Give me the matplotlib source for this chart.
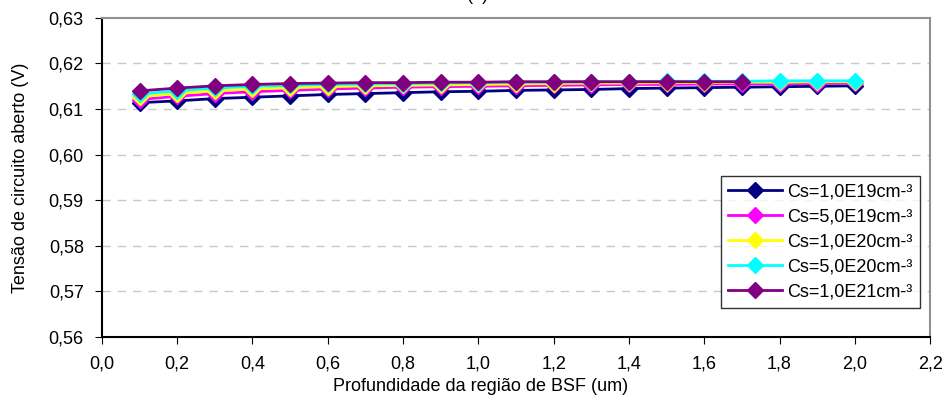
import matplotlib
matplotlib.use('Agg')
from matplotlib import pyplot as plt

plt.rcParams['font.family'] = ['Liberation Sans', 'DejaVu Sans']

depth = [0.1, 0.2, 0.3, 0.4, 0.5, 0.6, 0.7, 0.8, 0.9, 1.0,
         1.1, 1.2, 1.3, 1.4, 1.5, 1.6, 1.7, 1.8, 1.9, 2.0]

voc_1e19 = [0.6114, 0.6118, 0.6123, 0.6126, 0.6129, 0.6132, 0.6134, 0.6136, 0.6138, 0.6139,
            0.6141, 0.6142, 0.6143, 0.6145, 0.6146, 0.6147, 0.6148, 0.6149, 0.6150, 0.6151]
voc_5e19 = [0.6121, 0.6128, 0.6134, 0.6138, 0.6141, 0.6144, 0.6146, 0.6148, 0.6149, 0.6150,
            0.6151, 0.6152, 0.6153, 0.6154, 0.6154, 0.6155, 0.6155, 0.6156, 0.6156, 0.6157]
voc_1e20 = [0.6127, 0.6134, 0.6140, 0.6144, 0.6147, 0.6149, 0.6151, 0.6152, 0.6153, 0.6154,
            0.6155, 0.6156, 0.6157, 0.6157, 0.6158, 0.6158, 0.6159, 0.6159, 0.6160, 0.6160]
voc_5e20 = [0.6133, 0.6140, 0.6146, 0.6150, 0.6152, 0.6154, 0.6155, 0.6156, 0.6157, 0.6158,
            0.6159, 0.6159, 0.6160, 0.6160, 0.6161, 0.6161, 0.6161, 0.6162, 0.6162, 0.6162]
voc_1e21 = [0.6140, 0.6146, 0.6151, 0.6154, 0.6156, 0.6157, 0.6158, 0.6158, 0.6159, 0.6159,
            0.6160, 0.6160, 0.6160, 0.6160, 0.6160, 0.6160, 0.6160]

labels = ['Cs=1,0E19cm-³', 'Cs=5,0E19cm-³', 'Cs=1,0E20cm-³',
          'Cs=5,0E20cm-³', 'Cs=1,0E21cm-³']
colors = ['#000080', '#FF00FF', '#FFFF00', '#00FFFF', '#800080']
series = [voc_1e19, voc_5e19, voc_1e20, voc_5e20, voc_1e21]

xticks = [0.0, 0.2, 0.4, 0.6, 0.8, 1.0, 1.2, 1.4, 1.6, 1.8, 2.0, 2.2]
yticks = [0.56, 0.57, 0.58, 0.59, 0.60, 0.61, 0.62, 0.63]


def comma(v, nd):
    return ('%.*f' % (nd, v)).replace('.', ',')


fig = plt.figure(figsize=(9.52, 4.07), dpi=100)
ax = fig.add_axes([0.107, 0.172, 0.870, 0.784])

for ys, c, lab in zip(series, colors, labels):
    ax.plot(depth[:len(ys)], ys, color=c, lw=2, marker='D', ms=8,
            markeredgecolor=c, label=lab)

ax.set_xlim(0.0, 2.2)
ax.set_ylim(0.56, 0.63)
ax.set_xticks(xticks)
ax.set_xticklabels([comma(v, 1) for v in xticks])
ax.set_yticks(yticks)
ax.set_yticklabels([comma(v, 2) for v in yticks])
ax.tick_params(axis='x', direction='out', length=5, labelsize=13, pad=8)
ax.tick_params(axis='y', direction='out', length=5, labelsize=13, pad=8)

for y in yticks[1:-1]:
    ax.axhline(y, color='#c8c8c8', lw=1, ls=(0, (6, 5)), zorder=0)

ax.spines['left'].set_color('black')
ax.spines['bottom'].set_color('black')
ax.spines['top'].set_color('#909090')
ax.spines['right'].set_color('#909090')
for s in ax.spines.values():
    s.set_linewidth(1.5)

ax.set_xlabel('Profundidade da região de BSF (um)', fontsize=13)
ax.xaxis.set_label_coords(0.457, -0.13)
ax.set_ylabel('Tensão de circuito aberto (V)', fontsize=13, labelpad=14)

leg = ax.legend(loc='lower right', bbox_to_anchor=(0.988, 0.091), fontsize=13,
                frameon=True, fancybox=False, edgecolor='black',
                handlelength=3.0, borderpad=0.4, labelspacing=0.45,
                handletextpad=0.3, borderaxespad=0)
leg.get_frame().set_linewidth(1)

fig.text(0.502, 1.0, '(a)', ha='center', va='baseline', fontsize=13)

fig.savefig('out.png', dpi=100)
